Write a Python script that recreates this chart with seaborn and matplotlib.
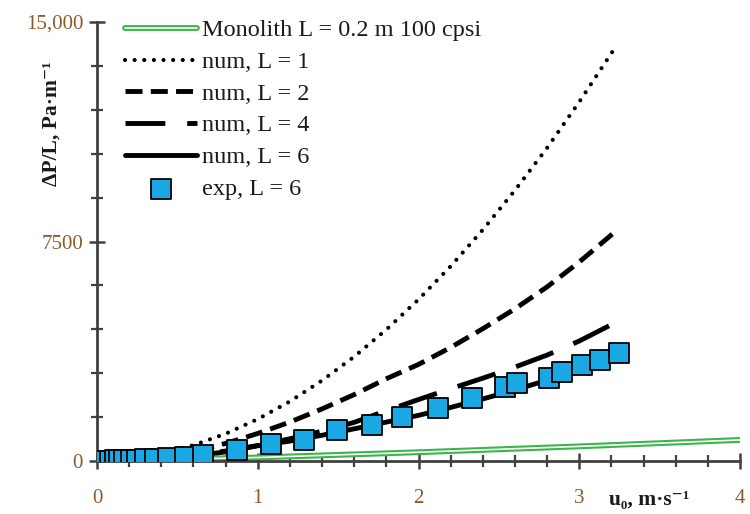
import numpy as np
import pandas as pd
import matplotlib
matplotlib.use("Agg")
import matplotlib.pyplot as plt
import matplotlib.patheffects as pe
from matplotlib.ticker import MultipleLocator, FixedLocator
import seaborn as sns

# data
u_num = [0, 0.2, 0.4, 0.6, 0.8, 1.0, 1.2, 1.4, 1.6, 1.8, 2.0, 2.2, 2.4, 2.6, 2.8, 3.0, 3.22]
dp_L1 = [0, 73, 253, 540, 930, 1430, 2035, 2750, 3565, 4490, 5520, 6655, 7900, 9250, 10700, 12270, 14100]
dp_L2 = [0, 40, 150, 330, 600, 940, 1330, 1780, 2270, 2810, 3300, 3880, 4520, 5200, 5950, 6800, 7820]
dp_L4 = [0, 30, 100, 200, 340, 530, 760, 1020, 1320, 1720, 2100, 2470, 2830, 3210, 3620, 4100, 4715]
dp_L6 = [0, 30, 90, 180, 310, 520, 680, 880, 1100, 1330, 1560, 1830, 2120, 2430, 2760, 3150, 3560]

u_mono = [0, 1, 2, 3, 4]
dp_mono = [0, 120, 300, 500, 720]

u_exp = [0.05, 0.08, 0.11, 0.14, 0.17, 0.21, 0.25, 0.30, 0.36, 0.44, 0.55, 0.66, 0.87, 1.08,
         1.29, 1.49, 1.71, 1.90, 2.12, 2.33, 2.54, 2.61, 2.81, 2.89, 3.02, 3.13, 3.25]
dp_exp = [10, 15, 20, 25, 30, 40, 45, 55, 70, 100, 140, 200, 370, 580,
          720, 1050, 1230, 1520, 1810, 2150, 2530, 2660, 2840, 3040, 3280, 3450, 3690]

sns.set_style("ticks")
plt.rcParams["font.family"] = ["Liberation Serif", "DejaVu Serif"]

fig = plt.figure(figsize=(7.5, 5.14), dpi=100)
ax = fig.add_axes([0.1293, 0.1031, 0.8574, 0.8541])

green = "#3cb54a"
sns.lineplot(x=u_mono, y=dp_mono, ax=ax, color="white", lw=1.2,
             label="Monolith L = 0.2 m 100 cpsi", zorder=2,
             path_effects=[pe.Stroke(linewidth=4.2, foreground=green), pe.Normal()])
sns.lineplot(x=u_num, y=dp_L1, ax=ax, color="black", lw=3, label="num, L = 1",
             linestyle=(0, (0.01, 2.3)), dash_capstyle="round", zorder=3)
sns.lineplot(x=u_num, y=dp_L2, ax=ax, color="black", lw=3.5, label="num, L = 2",
             linestyle=(0, (3.5, 1.7)), zorder=3)
sns.lineplot(x=u_num, y=dp_L4, ax=ax, color="black", lw=3.5, label="num, L = 4",
             linestyle=(0, (8.2, 4.5)), zorder=3)
sns.lineplot(x=u_num, y=dp_L6, ax=ax, color="black", lw=3.5, label="num, L = 6", zorder=3)
sns.scatterplot(x=u_exp, y=dp_exp, ax=ax, marker="s", s=200, color="#1aa8e4",
                edgecolor="black", linewidth=1.3, label="exp, L = 6", zorder=4)

ax.set_xlim(0, 4)
ax.set_ylim(0, 15000)
ax.xaxis.set_major_locator(MultipleLocator(1))
ax.xaxis.set_minor_locator(MultipleLocator(0.2))
ax.yaxis.set_major_locator(FixedLocator([0, 7500, 15000]))
ax.yaxis.set_minor_locator(MultipleLocator(1500))
ax.set_yticklabels(["0", "7500", "15,000"])

tick_col = "#8b5a2b"
ax.tick_params(axis="both", which="major", direction="inout", length=12, width=1.8,
               color="#404040", labelsize=15, labelcolor=tick_col, pad=4)
ax.tick_params(axis="x", which="major", pad=14)
ax.tick_params(axis="both", which="minor", direction="inout", length=8, width=1.6,
               color="#404040")
for s in ["top", "right"]:
    ax.spines[s].set_visible(False)
for s in ["left", "bottom"]:
    ax.spines[s].set_color("#404040")
    ax.spines[s].set_linewidth(2)
ax.set_xlabel("")
ax.set_ylabel("")

fig.text(0.069, 0.76, "ΔP/L, Pa·m⁻¹", rotation=90, fontsize=15.5, fontweight="bold",
         ha="center", va="center", color="#1a1a1a")
fig.text(0.865, 0.028, "u₀, m·s⁻¹", fontsize=15.5, fontweight="bold",
         ha="center", va="center", color="#1a1a1a")

leg = ax.legend(loc="upper left", bbox_to_anchor=(0.167, 0.9625),
                bbox_transform=fig.transFigure, frameon=False, fontsize=17.5,
                handlelength=2.95, handletextpad=0.22, labelspacing=0.40,
                borderpad=0, borderaxespad=0)
for t in leg.get_texts():
    t.set_color("#1a1a1a")

fig.savefig("out.png", dpi=100)
